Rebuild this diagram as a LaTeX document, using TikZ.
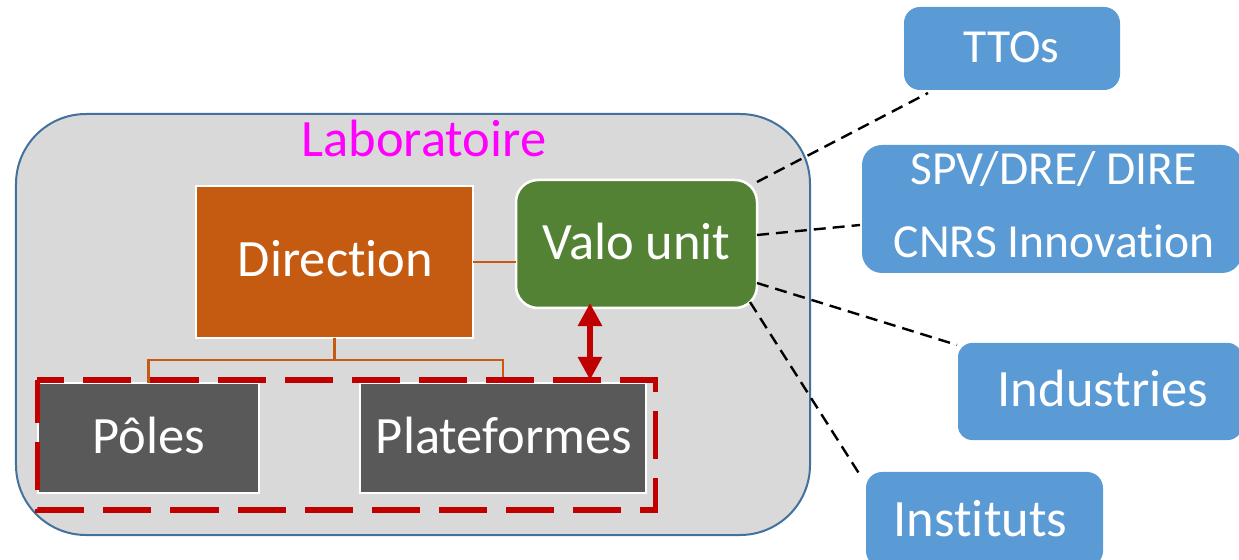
\documentclass[tikz,border=0pt]{standalone}
\usepackage{fontspec}
\setmainfont{Carlito}[Ligatures={NoCommon}]
\usetikzlibrary{arrows.meta}
\definecolor{labfill}{HTML}{D9D9D9}
\definecolor{labline}{HTML}{41719C}
\definecolor{dirfill}{HTML}{C55A11}
\definecolor{valofill}{HTML}{548235}
\definecolor{greyfill}{HTML}{595959}
\definecolor{bluefill}{HTML}{5B9BD5}
\definecolor{redc}{HTML}{C00000}
\definecolor{labtext}{HTML}{FF00FF}
\begin{document}
\begin{tikzpicture}[x=1bp,y=-1bp,
  every node/.style={inner sep=0pt, outer sep=0pt},
  whitebox/.style={draw=white, line width=2.5bp},
  bluebox/.style={fill=bluefill, draw=none},
  lbl/.style={text=white, anchor=base, font=\fontsize{52.5bp}{62bp}\selectfont},
  lbls/.style={text=white, anchor=base, font=\fontsize{47.5bp}{56bp}\selectfont},
  ext/.style={black, line width=2.4bp, dash pattern=on 12bp off 7bp},
  org/.style={draw=dirfill, line width=2.5bp},
  redframe/.style={draw=redc, line width=5.5bp, dash pattern=on 48bp off 19bp, dash phase=21bp, line join=miter},
  dblarrow/.style={draw=redc, line width=6bp, {Triangle[length=23bp,width=23bp]}-{Triangle[length=23bp,width=23bp]}},
]
\useasboundingbox (0,0) rectangle (1239,560);
% laboratory
\node[fill=labfill, draw=labline, line width=2bp, rounded corners=70bp,
      minimum width=794bp, minimum height=421bp] (lab) at (413,324.5) {};
% boxes
\node[whitebox, fill=dirfill, minimum width=277bp, minimum height=152bp] (dir) at (334.5,262) {};
\node[whitebox, fill=valofill, rounded corners=22bp, minimum width=241bp, minimum height=128bp] (valo) at (636.5,244) {};
\node[whitebox, fill=greyfill, minimum width=221bp, minimum height=110bp] (poles) at (148.5,438) {};
\node[whitebox, fill=greyfill, minimum width=286bp, minimum height=110bp] (plat) at (503,438) {};
\node[minimum width=618bp, minimum height=130bp] (redbox) at (346.5,445) {};
% orange connectors
\draw[org] (dir.east) -- (dir.east -| valo.west);
\draw[org] (dir.south) -- ++(0,22) coordinate (j);
\draw[org] (poles.north) |- (j) -| (plat.north);
% red dashed frame
\draw[redframe] (redbox.north west) -- (redbox.north east) -- (redbox.south east) -- (redbox.south west) -- cycle;
% double arrow
\draw[dblarrow] ([xshift=-46.5bp,yshift=5bp]valo.south) coordinate (a1) -- (a1 |- redbox.north);
% external boxes
\node[bluebox, rounded corners=16bp, minimum width=216bp, minimum height=83bp] (tto) at (1012,48.5) {};
\node[bluebox, rounded corners=20bp, minimum width=380bp, minimum height=128bp] (spv) at (1052,209) {};
\node[bluebox, rounded corners=14bp, minimum width=284bp, minimum height=97bp] (ind) at (1100,391.5) {};
\node[bluebox, rounded corners=16bp, minimum width=237bp, minimum height=95bp] (inst) at (984.5,519.5) {};
% dashed links
\draw[ext] ([yshift=-2bp]valo.north east) -- ([shift={(24,3)}]tto.south west);
\draw[ext] ([yshift=9bp]valo.east) -- ([shift={(-2,16)}]spv.west);
\draw[ext] ([yshift=-39bp]valo.east) -- ([shift={(-1,2)}]ind.north west);
\draw[ext] ([shift={(-7,-6)}]valo.south east) -- ([shift={(-6,3)}]inst.north west);
% texts
\node[lbl, text=labtext] at (424,157) {Laboratoire};
\node[lbl] at (335.5,277) {Direction};
\node[lbl] at (636.5,260) {Valo unit};
\node[lbl] at (149,453) {Pôles};
\node[lbl] at (504,453) {Plateformes};
\node[lbls] at (1011.5,63) {TTOs};
\node[lbls] at (1053.5,185) {SPV/DRE/ DIRE};
\node[lbls] at (1054,258) {CNRS Innovation};
\node[lbl] at (1103,406) {Industries};
\node[lbl] at (980.5,536) {Instituts};
\end{tikzpicture}
\end{document}
